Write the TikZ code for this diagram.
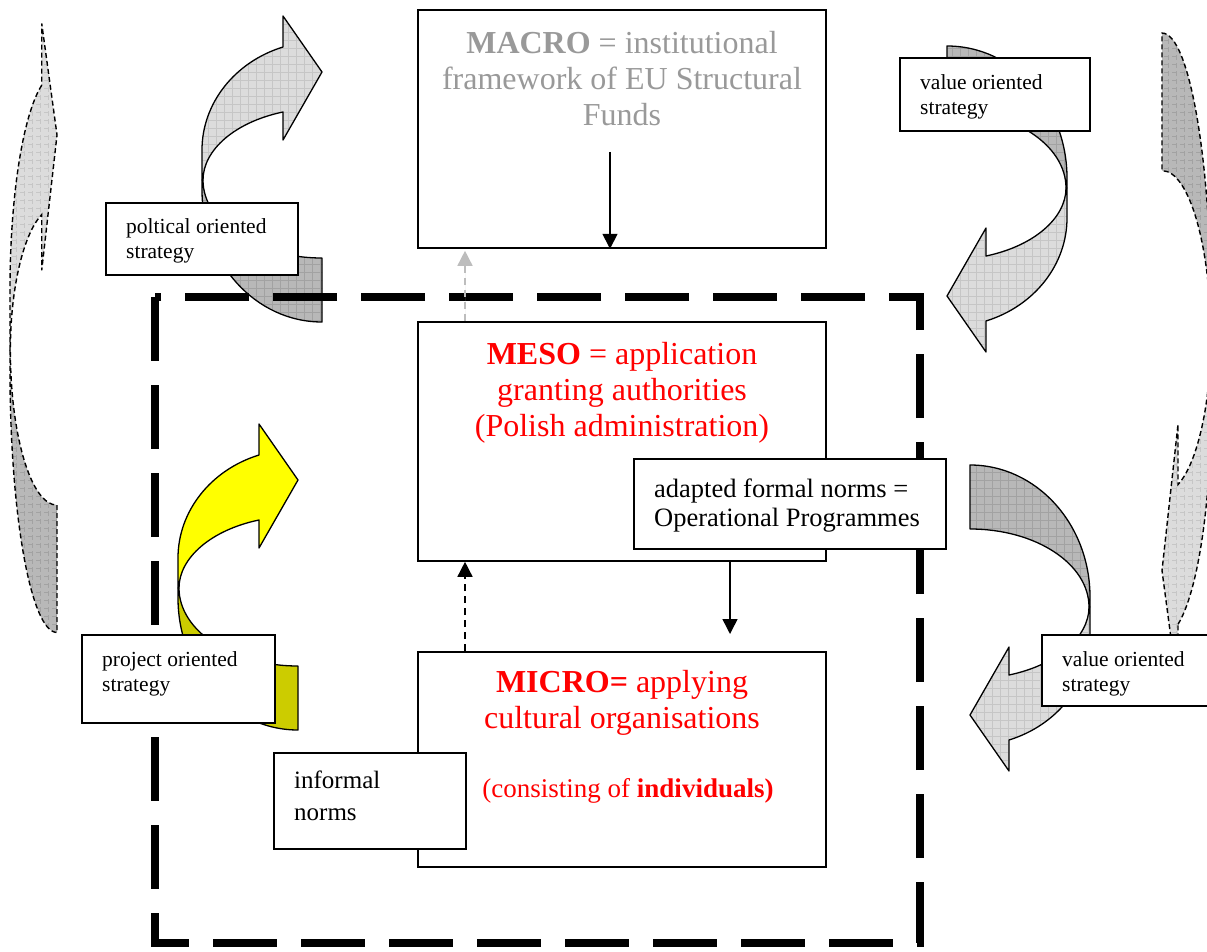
\documentclass[tikz,border=0pt]{standalone}
\usepackage{fontspec}
\setmainfont{Liberation Serif}
\usetikzlibrary{arrows.meta,patterns.meta,calc}

\definecolor{ribbonlight}{HTML}{DCDCDC}
\definecolor{ribbondark}{HTML}{B8B8B8}
\definecolor{gridlight}{HTML}{C6C6C6}
\definecolor{griddark}{HTML}{A2A2A2}
\definecolor{yellowfront}{HTML}{FFFF00}
\definecolor{yellowback}{HTML}{CCCC00}
\definecolor{macrogray}{HTML}{999999}
\definecolor{feedbackgray}{HTML}{BDBDBD}

\tikzset{
  % twisted curved arrow: front half ends in the head, back half is the tail
  pics/ribbon/.style n args={3}{code={
    \path[#2, #3] (-60,11) -- (-60,21)
      .. controls (-60,94) and (-6.3,153) .. (60,153)
      -- (60,89)
      .. controls (-6,89) and (-59,54) .. (-59,11) -- cycle;
    \path[#1, #3] (21,-122)
      .. controls (-27.5,-107) and (-60,-65.5) .. (-60,-19)
      -- (-60,11) -- (-59,11)
      .. controls (-59,-19) and (-27,-47) .. (21,-57)
      -- (21,-29) -- (60,-97) -- (21,-153) -- cycle;
  }},
  frontgray/.style={preaction={fill=ribbonlight},
    pattern={Hatch[angle=0,distance=8pt,line width=0.6pt]}, pattern color=gridlight},
  backgray/.style={preaction={fill=ribbondark},
    pattern={Hatch[angle=0,distance=8pt,line width=0.6pt]}, pattern color=griddark},
  frontyellow/.style={fill=yellowfront},
  backyellow/.style={fill=yellowback},
  ribbonline/.style={draw=black, line width=1.3pt, line join=round},
  edgeline/.style={draw=black, line width=1.4pt, dash pattern=on 5pt off 3pt},
  frame/.style={draw=black, line width=8pt, dash pattern=on 64pt off 24pt},
  box/.style={draw=black, line width=1.6pt, fill=white, inner sep=0pt},
  tag/.style={box},
  bigtext/.style={font=\fontsize{32}{36}\selectfont, align=center, inner sep=0pt},
  midtext/.style={font=\fontsize{26.5}{29}\selectfont, align=left, inner sep=0pt},
  tagtext/.style={font=\fontsize{21.5}{25}\selectfont, align=left, inner sep=0pt},
  flow/.style={draw=black, line width=1.5pt, -{Triangle[width=15pt,length=15pt]}},
  feedback/.style={draw=black, line width=1.5pt, dash pattern=on 7pt off 5pt,
    -{Triangle[width=15pt,length=15pt]}},
  feedbackfaint/.style={feedback, draw=feedbackgray, fill=feedbackgray},
}

\begin{document}
\begin{tikzpicture}[x=1pt,y=-1pt]
\useasboundingbox (0,0) rectangle (1207,952);
\clip (0,0) rectangle (1207,952);

% arrows seen edge-on at the left and right margins
\pic[xscale=0.392,yscale=1.99] at (33.5,328) {ribbon={frontgray}{backgray}{edgeline}};
\pic[rotate=180,xscale=0.41,yscale=2.15] at (1186.6,362) {ribbon={frontgray}{backgray}{edgeline}};

% curved strategy arrows
\pic at (262,169) {ribbon={frontgray}{backgray}{ribbonline}};
\pic[rotate=180] at (1007,199) {ribbon={frontgray}{backgray}{ribbonline}};
\pic[rotate=180] at (1030,618) {ribbon={frontgray}{backgray}{ribbonline}};
\pic at (238,577) {ribbon={frontyellow}{backyellow}{ribbonline}};

% national boundary
\draw[frame] (155,297) rectangle (920,943);

% levels
\node[box, minimum width=408, minimum height=238] (macro) at (622,129) {};
\node[box, minimum width=408, minimum height=239] (meso) at (622,441.5) {};
\node[box, minimum width=408, minimum height=215] (micro) at (622,759.5) {};

\node[bigtext, text=macrogray, anchor=north] (macrolabel) at (622,31)
  {\textbf{MACRO} = institutional\\framework of EU Structural\\Funds};
\node[bigtext, text=red, anchor=north] (mesolabel) at (622,342)
  {\textbf{MESO} = application\\granting authorities\\(Polish administration)};
\node[bigtext, text=red, anchor=north] (microlabel) at (622,670)
  {\textbf{MICRO=} applying\\cultural organisations};
\node[font=\fontsize{27}{31}\selectfont, text=red, inner sep=0pt, anchor=base] (micronote) at (628,797)
  {(consisting of \textbf{individuals)}};

% norms
\node[box, minimum width=312, minimum height=90] (formal) at (790,504) {};
\node[midtext, anchor=north west] (formallabel) at (654,479)
  {adapted formal norms =\\Operational Programmes};
\node[box, minimum width=192, minimum height=96] (informal) at (370,801) {};
\node[midtext, font=\fontsize{25}{32}\selectfont, anchor=north west] (informallabel) at (294,771)
  {informal\\norms};

% strategy tags
\node[tag, minimum width=192, minimum height=72] (polit) at (202,239) {};
\node[tagtext, anchor=north west] (politlabel) at (126,218) {poltical oriented\\strategy};
\node[tag, minimum width=190, minimum height=73] (valuetop) at (995,94.5) {};
\node[tagtext, anchor=north west] (valuetoplabel) at (920,74) {value oriented\\strategy};
\node[tag, minimum width=193, minimum height=88] (project) at (178.5,679) {};
\node[tagtext, anchor=north west] (projectlabel) at (102,651) {project oriented\\strategy};
\node[tag, minimum width=190, minimum height=71] (valuebot) at (1137,670.5) {};
\node[tagtext, anchor=north west] (valuebotlabel) at (1062,651) {value oriented\\strategy};

% connectors
\coordinate (rulesout) at (610,152);
\coordinate (feedbackx) at (465,0);
\coordinate (programmesin) at (730,634);
\draw[flow] (rulesout) -- (rulesout |- macro.south);
\draw[feedbackfaint, shorten >=2pt] (meso.north -| feedbackx) -- (macro.south -| feedbackx);
\draw[feedback] (micro.north -| feedbackx) -- (meso.south -| feedbackx);
\draw[flow] (meso.south -| programmesin) -- (programmesin);
\end{tikzpicture}
\end{document}
